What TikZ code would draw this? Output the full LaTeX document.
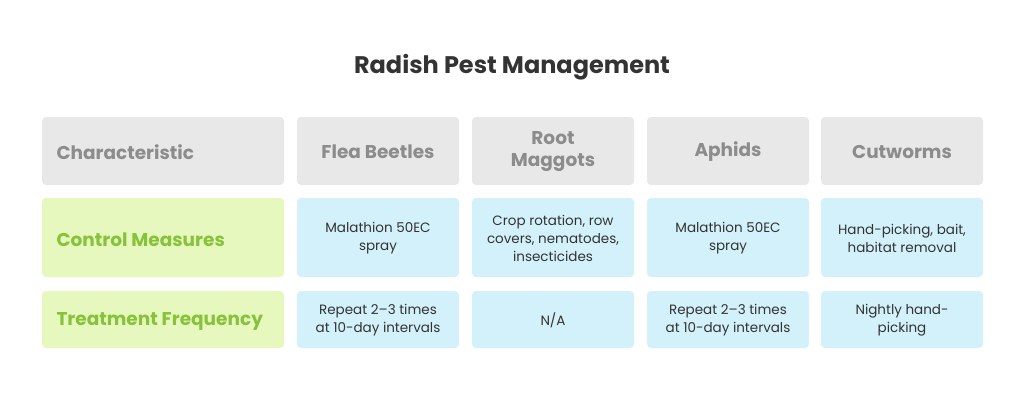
\documentclass[tikz,border=0pt]{standalone}
\usepackage{fontspec}
\setmainfont{Poppins}
\definecolor{hdrbg}{HTML}{E8E8E8}
\definecolor{hdrtx}{HTML}{8C8C8C}
\definecolor{grnbg}{HTML}{E7F8BF}
\definecolor{grntx}{HTML}{86C23A}
\definecolor{blubg}{HTML}{D3F1FB}
\definecolor{bodytx}{HTML}{333333}
\begin{document}
\begin{tikzpicture}[x=1pt,y=-1pt,
  cell/.style={rounded corners=4pt,inner sep=0pt},
  hdr/.style={font=\fontsize{18.5}{22}\selectfont\bfseries,text=hdrtx,align=center},
  grn/.style={font=\fontsize{18.5}{22}\selectfont\bfseries,text=grntx},
  bod/.style={font=\fontsize{13.5}{18}\selectfont,text=bodytx,align=center}]
\useasboundingbox (0,0) rectangle (1024,407);
\node[font=\fontsize{24}{28}\selectfont\bfseries,text=bodytx] (title) at (512,67) {Radish Pest Management};
% header row
\fill[hdrbg,cell] (42,117) rectangle (284,185);
\node[hdr,anchor=west] (h0) at (53,152) {Characteristic};
\foreach \x/\t [count=\i] in {297/Flea Beetles,472/{Root\\Maggots},647/Aphids,821/Cutworms}{
  \fill[hdrbg,cell] (\x,117) rectangle (\x+162,185);
  \node[hdr] (h\i) at (\x+81,152) {\t};
}
% control row
\fill[grnbg,cell] (42,198) rectangle (284,277);
\node[grn,anchor=west] (c0) at (53,240) {Control Measures};
\foreach \x/\t [count=\i] in {297/{Malathion 50EC\\spray},472/{Crop rotation, row\\covers, nematodes,\\insecticides},647/{Malathion 50EC\\spray},821/{Hand-picking, bait,\\habitat removal}}{
  \fill[blubg,cell] (\x,198) rectangle (\x+162,277);
  \node[bod] (c\i) at (\x+81,238) {\t};
}
% frequency row
\fill[grnbg,cell] (42,291) rectangle (284,348);
\node[grn,anchor=west] (f0) at (53,321) {Treatment Frequency};
\foreach \x/\t [count=\i] in {297/{Repeat 2–3 times\\at 10-day intervals},472/{N/A},647/{Repeat 2–3 times\\at 10-day intervals},821/{Nightly hand-\\picking}}{
  \fill[blubg,cell] (\x,291) rectangle (\x+162,348);
  \node[bod] (f\i) at (\x+81,320) {\t};
}
\end{tikzpicture}
\end{document}
